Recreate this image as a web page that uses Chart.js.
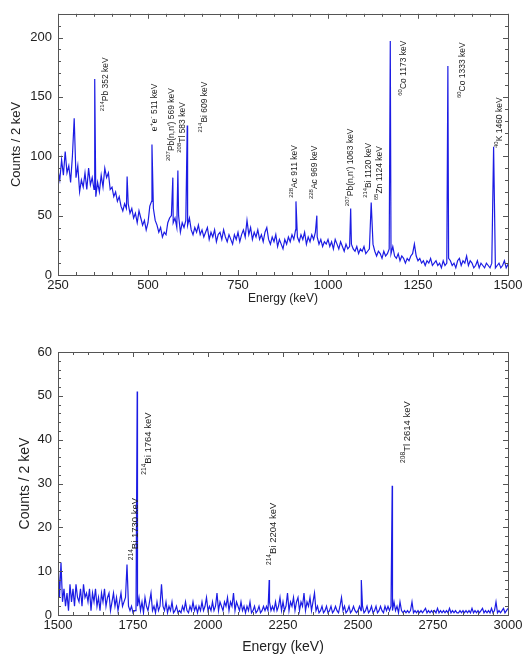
<!DOCTYPE html>
<html>
<head>
<meta charset="utf-8">
<script src="https://cdn.jsdelivr.net/npm/chart.js@4.4.1/dist/chart.umd.min.js"></script>
<style>
  body { margin: 0; background: #fff; }
  #topBox { position: absolute; left: 0; top: 0; width: 526px; height: 310px; }
  #botBox { position: absolute; left: 0; top: 330px; width: 526px; height: 328px; }
</style>
</head>
<body>
<div id="topBox"><canvas id="topChart" width="526" height="310"></canvas></div>
<div id="botBox"><canvas id="botChart" width="526" height="328"></canvas></div>
<script>

// ---- top panel: 250 - 1500 keV, 5 keV bins (background)
const topStart = 250, topEnd = 1500, topStep = 5;
const topCounts = [
    88, 80, 97, 84, 104, 86, 92, 78, 100, 90,
    82, 92, 70, 80, 74, 86, 72, 90, 76, 82,
    72, 66, 78, 70, 84, 74, 90, 82, 86, 72,
    74, 66, 70, 62, 66, 58, 54, 60, 56, 60,
    52, 56, 48, 52, 44, 54, 48, 42, 46, 38,
    44, 58, 62, 56, 46, 42, 36, 40, 32, 36,
    34, 44, 48, 50, 44, 48, 40, 50, 36, 44,
    40, 46, 42, 48, 38, 34, 40, 36, 42, 34,
    38, 32, 36, 40, 30, 36, 32, 38, 28, 34,
    36, 30, 38, 32, 28, 34, 30, 26, 34, 30,
    36, 28, 34, 38, 32, 46, 34, 40, 30, 36,
    32, 38, 30, 34, 28, 36, 40, 30, 26, 32,
    28, 34, 24, 30, 26, 22, 30, 26, 32, 28,
    34, 30, 38, 32, 28, 34, 30, 36, 26, 32,
    28, 34, 30, 36, 32, 26, 30, 24, 28, 26,
    30, 24, 28, 22, 30, 26, 22, 28, 24, 20,
    26, 22, 24, 26, 22, 20, 24, 18, 22, 20,
    24, 18, 20, 22, 24, 26, 20, 16, 20, 18,
    14, 20, 16, 18, 22, 18, 24, 16, 14, 18,
    12, 16, 14, 10, 14, 12, 16, 18, 26, 16,
    12, 14, 10, 12, 8, 12, 10, 14, 8, 10,
    12, 8, 10, 6, 12, 8, 10, 14, 12, 8,
    10, 6, 12, 14, 8, 12, 10, 16, 8, 12,
    10, 6, 8, 12, 6, 10, 8, 6, 10, 8,
    6, 10, 8, 6, 8, 10, 6, 8, 12, 6,
    9
];
const topPeakEnergy = [295, 352, 442, 511, 569, 583, 609, 911, 969, 1063, 1120, 1173, 1333, 1460];
const topPeakCounts = [132, 165, 83, 110, 82, 88, 126, 62, 50, 56, 61, 197, 176, 108];
const topXTicks = [250, 500, 750, 1000, 1250, 1500];
const topYTicks = [0, 50, 100, 150, 200];

const topLabelText = [
    '^{214}Pb 352 keV', 'e^{+}e^{-} 511 keV', "^{207}Pb(n,n') 569 keV", '^{208}Tl 583 keV',
    '^{214}Bi 609 keV', '^{228}Ac 911 keV', '^{228}Ac 969 keV', "^{207}Pb(n,n') 1063 keV",
    '^{214}Bi 1120 keV', '^{65}Zn 1124 keV', '^{60}Co 1173 keV', '^{60}Co 1333 keV', '^{40}K 1460 keV'
];
const topLabelEnergy = [383, 519, 567, 597, 656, 908, 964, 1064, 1114, 1144, 1211, 1375, 1478];
const topLabelBase = [138, 121, 96, 103, 120, 65, 64, 58, 65, 63, 151, 149, 107];

// ---- bottom panel: 1500 - 3000 keV
const botStart = 1500, botEnd = 3000, botStep = 5;
const botCounts = [
    13, 4, 12, 3, 6, 2, 5, 1, 7, 3,
    6, 2, 7, 4, 3, 6, 2, 7, 4, 5,
    3, 6, 1, 5, 3, 6, 2, 4, 1, 5,
    3, 6, 2, 4, 5, 1, 3, 5, 2, 4,
    1, 3, 5, 2, 3, 4, 3, 2, 1, 2,
    0.5, 1, 1, 2, 4, 1, 3, 0.5, 4, 2,
    1, 3, 5, 1, 2, 0.5, 3, 1, 2, 7,
    2, 1, 3, 0.5, 2, 1, 3, 0.5, 1, 2,
    0.5, 1, 0.5, 2, 1, 3, 1, 0.5, 2, 1,
    3, 1, 2, 0.5, 2, 1, 3, 1, 2, 4,
    1, 2, 1, 3, 1, 2, 5, 1, 3, 2,
    1, 3, 2, 4, 1, 3, 2, 5, 1, 3,
    2, 1, 3, 1, 2, 0.5, 2, 1, 3, 0.5,
    1, 2, 0.5, 1, 2, 0.5, 1, 2, 1, 2,
    1, 3, 1, 2, 1, 3, 1, 2, 4, 1,
    3, 1, 2, 5, 1, 3, 2, 4, 1, 3,
    4, 1, 3, 2, 5, 1, 3, 2, 4, 1,
    3, 5, 1, 2, 0.5, 1, 2, 0.5, 1, 2,
    0.5, 1, 2, 0.5, 1, 2, 1, 0.5, 2, 4,
    1, 2, 0.5, 1, 2, 0.5, 1, 2, 1, 0.5,
    1, 2, 1, 2, 0.5, 1, 2, 0.5, 1, 2,
    0.5, 1, 2, 0.5, 1, 2, 1, 0.5, 2, 1,
    2, 1, 2, 1, 3, 1, 2, 0.5, 3, 1,
    0.5, 1, 0.5, 1, 0.5, 1, 3, 0.5, 1, 0.5,
    1, 0.5, 1, 0.5, 1, 1.5, 0.5, 1, 0.5, 1,
    0.5, 1, 0.5, 1.5, 0.5, 1, 0.5, 1, 0.5, 1,
    0.5, 1.5, 0.5, 1, 0.5, 1, 0.5, 0.5, 1, 0.5,
    1, 0.5, 1, 0.5, 1, 0.5, 1.5, 0.5, 1, 0.5,
    1, 0.5, 1, 1.5, 0.5, 1, 0.5, 1, 0.5, 1.5,
    0.5, 1, 3, 0.5, 1, 0.5, 1, 1.5, 0.5, 1,
    1.5
];
const botPeakEnergy = [1730, 1764, 2204, 2511, 2614];
const botPeakCounts = [11.5, 51, 8, 8, 29.5];
const botXTicks = [1500, 1750, 2000, 2250, 2500, 2750, 3000];
const botYTicks = [0, 10, 20, 30, 40, 50, 60];

const botLabelText = ['^{214}Bi 1730 keV', '^{214}Bi 1764 keV', '^{214}Bi 2204 keV', '^{208}Tl 2614 keV'];
const botLabelEnergy = [1757, 1800, 2217, 2663];
const botLabelBase = [12.5, 32, 11.4, 34.7];

const lineColor = 'rgb(28,28,228)';
const textColor = '#222';
const fontFamily = "'Liberation Sans', Arial, sans-serif";

// bins + peaks -> sorted {x,y} points
function buildSeries(start, step, counts, peakE, peakC) {
    let pts = counts.map((c, i) => ({x: start + i * step, y: c}));
    peakE.forEach((e, i) => {
        let j = pts.findIndex(p => p.x === e);
        if (j >= 0) pts[j].y = peakC[i];
        else pts.push({x: e, y: peakC[i]});
    });
    pts.sort((a, b) => a.x - b.x);
    return pts;
}

// box around the plot with inward ticks on all four sides
const framePlugin = {
    id: 'frame',
    afterDatasetsDraw(chart, args, opts) {
        const {ctx, chartArea: a, scales: {x, y}} = chart;
        ctx.save();
        ctx.strokeStyle = '#555';
        ctx.lineWidth = 1;
        ctx.strokeRect(Math.round(a.left) + 0.5, Math.round(a.top) + 0.5,
                       Math.round(a.right - a.left), Math.round(a.bottom - a.top));
        ctx.beginPath();
        for (let v = x.min; v <= x.max; v += opts.xMinor) {
            let len = (v % opts.xMajor === 0) ? 5 : 3;
            let px = Math.round(x.getPixelForValue(v)) + 0.5;
            ctx.moveTo(px, a.bottom); ctx.lineTo(px, a.bottom - len);
            ctx.moveTo(px, a.top); ctx.lineTo(px, a.top + len);
        }
        for (let v = y.min; v <= y.max; v += opts.yMinor) {
            let len = (v % opts.yMajor === 0) ? 5 : 3;
            let py = Math.round(y.getPixelForValue(v)) + 0.5;
            ctx.moveTo(a.left, py); ctx.lineTo(a.left + len, py);
            ctx.moveTo(a.right, py); ctx.lineTo(a.right - len, py);
        }
        ctx.stroke();
        ctx.restore();
    }
};

// vertical peak labels, '^{..}' marks a superscript
const labelPlugin = {
    id: 'peakLabels',
    afterDatasetsDraw(chart, args, opts) {
        const {ctx, scales: {x, y}} = chart;
        ctx.save();
        ctx.fillStyle = textColor;
        ctx.textAlign = 'left';
        ctx.textBaseline = 'middle';
        opts.text.forEach((t, i) => {
            let parts = t.split(/\^\{([^}]*)\}/);
            ctx.save();
            ctx.translate(x.getPixelForValue(opts.energy[i]), y.getPixelForValue(opts.base[i]));
            ctx.rotate(-Math.PI / 2);
            let cx = 0;
            parts.forEach((p, k) => {
                if (!p) return;
                let sup = k % 2 === 1;
                ctx.font = (sup ? opts.size * 0.7 : opts.size) + 'px ' + fontFamily;
                ctx.fillText(p, cx, sup ? -opts.size * 0.4 : 0);
                cx += ctx.measureText(p).width;
            });
            ctx.restore();
        });
        ctx.restore();
    }
};

function makeChart(canvasId, series, cfg) {
    const ctx = document.getElementById(canvasId).getContext('2d');
    return new Chart(ctx, {
        type: 'line',
        data: {
            datasets: [{
                data: series,
                borderColor: lineColor,
                borderWidth: 1.2,
                pointRadius: 0,
                tension: 0,
                fill: false
            }]
        },
        options: {
            responsive: false,
            animation: false,
            layout: {padding: {left: 0, right: 18, top: cfg.padTop, bottom: 0}},
            plugins: {
                legend: {display: false},
                tooltip: {enabled: false},
                frame: cfg.frame,
                peakLabels: cfg.labels
            },
            scales: {
                x: {
                    type: 'linear',
                    min: cfg.xTicks[0],
                    max: cfg.xTicks[cfg.xTicks.length - 1],
                    grid: {display: false, drawTicks: false},
                    border: {display: false},
                    ticks: {font: {family: fontFamily, size: 13}, color: textColor, padding: cfg.xTickPad,
                            maxRotation: 0, autoSkip: false, callback: v => String(v)},
                    title: {display: true, text: 'Energy (keV)', color: textColor,
                            font: {family: fontFamily, size: cfg.xTitleSize}, padding: {top: 0, bottom: cfg.xTitlePad}},
                    afterBuildTicks: s => { s.ticks = cfg.xTicks.map(v => ({value: v})); },
                    afterFit: s => { s.height = cfg.xAxisHeight; }
                },
                y: {
                    min: 0,
                    max: cfg.yMax,
                    grid: {display: false, drawTicks: false},
                    border: {display: false},
                    ticks: {font: {family: fontFamily, size: 13}, color: textColor, padding: 6, callback: v => String(v)},
                    title: {display: true, text: 'Counts / 2 keV', color: textColor,
                            font: {family: fontFamily, size: cfg.yTitleSize}, padding: {top: cfg.yTitlePad, bottom: 0}},
                    afterBuildTicks: s => { s.ticks = cfg.yTicks.map(v => ({value: v})); },
                    afterFit: s => { s.width = 58; }
                }
            }
        },
        plugins: [framePlugin, labelPlugin]
    });
}

makeChart('topChart', buildSeries(topStart, topStep, topCounts, topPeakEnergy, topPeakCounts), {
    padTop: 12, xAxisHeight: 35, yMax: 220,
    xTicks: topXTicks, yTicks: topYTicks,
    xTickPad: 3, xTitleSize: 12, xTitlePad: 4, yTitleSize: 13, yTitlePad: 9,
    frame: {xMinor: 50, xMajor: 250, yMinor: 10, yMajor: 50},
    labels: {text: topLabelText, energy: topLabelEnergy, base: topLabelBase, size: 8.5}
});

makeChart('botChart', buildSeries(botStart, botStep, botCounts, botPeakEnergy, botPeakCounts), {
    padTop: 22, xAxisHeight: 43, yMax: 60,
    xTicks: botXTicks, yTicks: botYTicks,
    xTickPad: 3, xTitleSize: 14, xTitlePad: 2, yTitleSize: 14, yTitlePad: 17,
    frame: {xMinor: 50, xMajor: 250, yMinor: 2, yMajor: 10},
    labels: {text: botLabelText, energy: botLabelEnergy, base: botLabelBase, size: 9.5}
});
</script>
</body>
</html>
